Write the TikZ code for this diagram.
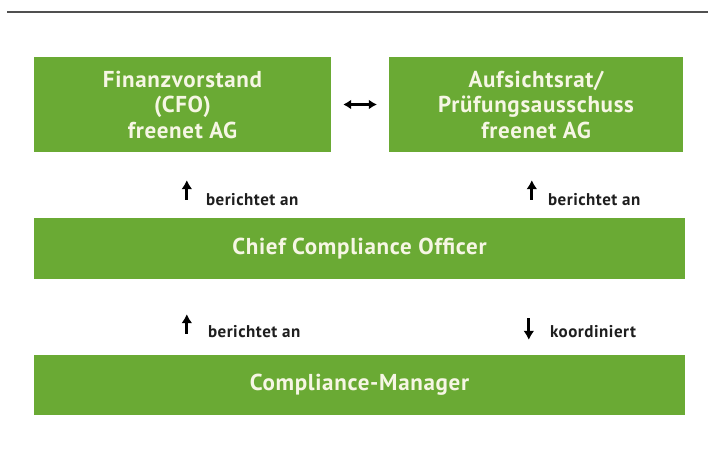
\documentclass[tikz,border=0pt]{standalone}
\usepackage{fontspec}
\setmainfont{PT Sans}
\newfontfamily\boxfont{PT Sans}[LetterSpace=3]
\newfontfamily\labelfont{PT Sans}[LetterSpace=3]
\usetikzlibrary{arrows.meta,calc}
\definecolor{boxgreen}{RGB}{106,170,52}
\definecolor{boxtext}{RGB}{246,246,228}
\definecolor{rulegray}{RGB}{80,80,80}
\definecolor{labeltext}{RGB}{30,30,30}
\tikzset{
  orgbox/.style={fill=boxgreen, draw=none, inner sep=0pt, text=boxtext,
    font=\boxfont\bfseries\fontsize{23}{25.5}\selectfont, align=center},
  relarrow/.style={-{Latex[length=9pt,width=11pt]}, line width=3pt, black},
  rellabel/.style={anchor=base west, text=labeltext,
    font=\labelfont\bfseries\fontsize{17}{19}\selectfont, inner sep=0pt},
}
\begin{document}
\begin{tikzpicture}[x=1pt,y=1pt]
  \useasboundingbox (0,0) rectangle (708,-468);
  \fill[white] (0,0) rectangle (708,-468);

  % header rule
  \coordinate (ruleL) at (7,-12);
  \coordinate (ruleR) at (708,-12);
  \draw[rulegray, line width=2.2pt] (ruleL) -- (ruleR);

  % boxes
  \node[orgbox, minimum width=297pt, minimum height=95pt] (fin) at (182.5,-104.5)
    {Finanzvorstand\\(CFO)\\freenet AG};
  \node[orgbox, minimum width=294pt, minimum height=95pt] (auf) at (536,-104.5)
    {Aufsichtsrat/\\Prüfungsausschuss\\freenet AG};
  \node[orgbox, minimum width=651pt, minimum height=61pt] (cco) at (359.5,-248.5)
    {Chief Compliance Officer};
  \node[orgbox, minimum width=651pt, minimum height=60pt] (cm) at (359.5,-385)
    {Compliance-Manager};

  % CFO <-> supervisory board
  \draw[{Latex[length=8pt,width=10pt]}-{Latex[length=8pt,width=10pt]}, line width=2.6pt]
    ([xshift=12pt]fin.east) -- ([xshift=-12pt]auf.west);

  % reporting lines
  \draw[relarrow] ($(cco.north west)+(153,18)$) coordinate (t1)
    -- ($(fin.south west)+(153,-28)$);
  \node[rellabel] (l1) at ($(t1)+(19,-6)$) {berichtet an};

  \draw[relarrow] ($(cco.north west)+(498,18)$) coordinate (t2)
    -- ($(auf.south west)+(143,-28)$);
  \node[rellabel] (l2) at ($(t2)+(16,-6)$) {berichtet an};

  \draw[relarrow] ($(cm.north west)+(153,21)$) coordinate (t3)
    -- ($(cco.south west)+(153,-35)$);
  \node[rellabel] (l3) at ($(t3)+(21,-4)$) {berichtet an};

  \draw[relarrow] ($(cco.south west)+(495,-39)$)
    -- ($(cm.north west)+(495,15)$) coordinate (t4);
  \node[rellabel] (l4) at ($(t4)+(21,2)$) {koordiniert};
\end{tikzpicture}
\end{document}
